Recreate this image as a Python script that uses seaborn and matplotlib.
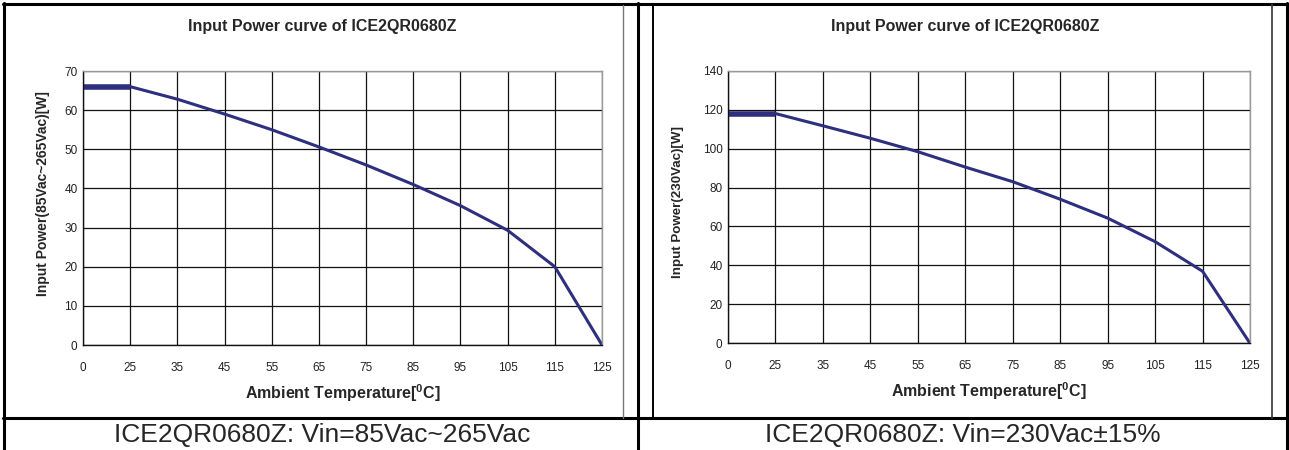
import numpy as np
import matplotlib
matplotlib.use("Agg")
import matplotlib.pyplot as plt
from matplotlib.lines import Line2D
import seaborn as sns

# ---- data ----
temps = [0, 25, 35, 45, 55, 65, 75, 85, 95, 105, 115, 125]
power_wide = [66, 66, 62.8, 59, 55, 50.6, 46, 41, 35.6, 29.3, 20, 0]
power_230 = [118, 118, 111.7, 105.3, 98.4, 90.5, 83, 74, 64.3, 52.2, 37, 0]
yticks_wide = [0, 10, 20, 30, 40, 50, 60, 70]
yticks_230 = [0, 20, 40, 60, 80, 100, 120, 140]
title = "Input Power curve of ICE2QR0680Z"
xlabel = "Ambient Temperature[$^{0}$C]"
ylabel_wide = "Input Power(85Vac~265Vac)[W]"
ylabel_230 = "Input Power(230Vac)[W]"
caption_wide = "ICE2QR0680Z: Vin=85Vac~265Vac"
caption_230 = "ICE2QR0680Z: Vin=230Vac±15%"

sns.set_style("white")
plt.rcParams['font.family'] = ['Liberation Sans', 'DejaVu Sans']
plt.rcParams['mathtext.fontset'] = 'custom'
plt.rcParams['mathtext.rm'] = 'Liberation Sans:bold'
plt.rcParams['mathtext.it'] = 'Liberation Sans:bold'

W, H = 1289, 450
fig = plt.figure(figsize=(W / 100, H / 100), dpi=100)

LINE_COLOR = "#2f2f7f"
pos = np.arange(len(temps))


def px_rect(x0, y0, x1, y1):
    return [x0 / W, 1 - y1 / H, (x1 - x0) / W, (y1 - y0) / H]


def make_panel(rect, values, yticks, ylabel, ylab_size, ylab_x, ylab_y,
               title_x, caption, cap_x):
    ax = fig.add_axes(rect)
    sns.lineplot(x=pos, y=values, ax=ax, color=LINE_COLOR, linewidth=2.2)
    sns.lineplot(x=pos[:2], y=values[:2], ax=ax, color=LINE_COLOR, linewidth=4.0,
                 solid_capstyle='butt')
    ax.set_xlim(pos[0], pos[-1])
    ax.set_ylim(yticks[0], yticks[-1])
    ax.set_xticks(pos)
    ax.set_xticklabels([str(t) for t in temps])
    ax.set_yticks(yticks)
    ax.tick_params(axis='both', length=0, labelsize=8.5, colors="#222222")
    ax.tick_params(axis='x', pad=12)
    ax.tick_params(axis='y', pad=4)
    ax.grid(True, color="#111111", linewidth=0.9)
    ax.set_axisbelow(True)
    for side in ['left', 'bottom']:
        ax.spines[side].set_color("#111111")
        ax.spines[side].set_linewidth(1.0)
    for side in ['top', 'right']:
        ax.spines[side].set_color("#999999")
        ax.spines[side].set_linewidth(1.0)
    ax.set_xlabel(xlabel, fontsize=11.5, fontweight='bold')
    ax.xaxis.set_label_coords(0.5, -0.175)
    ax.xaxis.label.set_va('center')
    ax.set_ylabel(ylabel, fontsize=ylab_size, fontweight='bold')
    ax.yaxis.set_label_coords(ylab_x, ylab_y)
    ax.yaxis.label.set_va('center')
    fig.text(title_x / W, 1 - 27 / H, title, fontsize=11.5, fontweight='bold',
             ha='center', va='center')
    fig.text(cap_x / W, 1 - 435 / H, caption, fontsize=19, ha='center', va='center')
    return ax


make_panel(px_rect(83, 71, 602, 345), power_wide, yticks_wide, ylabel_wide, 10,
           (43 - 83) / 519, (345 - 194) / 274, 322, caption_wide, 322)
make_panel(px_rect(728, 70.7, 1250, 343.3), power_230, yticks_230, ylabel_230, 9.6,
           (678 - 728) / 522, (343.3 - 202.5) / 272.6, 965, caption_230, 963)


def fline(x0, y0, x1, y1, lw, color="black"):
    fig.add_artist(Line2D([x0 / W, x1 / W], [1 - y0 / H, 1 - y1 / H],
                          transform=fig.transFigure, color=color, linewidth=lw))


# table borders
fline(3, 4, 1289, 4, 2.2)
fline(4, 3, 4, 450, 2.2)
fline(1287, 3, 1287, 450, 2.2)
fline(638, 3, 638, 450, 2.2)
fline(3, 418, 1289, 418, 2.2)
# picture borders
fline(623, 5, 623, 418, 1.0, "#777777")
fline(653, 4, 653, 418, 1.4)
fline(1272, 4, 1272, 418, 1.2, "#333333")

fig.savefig("out.png", dpi=100)
